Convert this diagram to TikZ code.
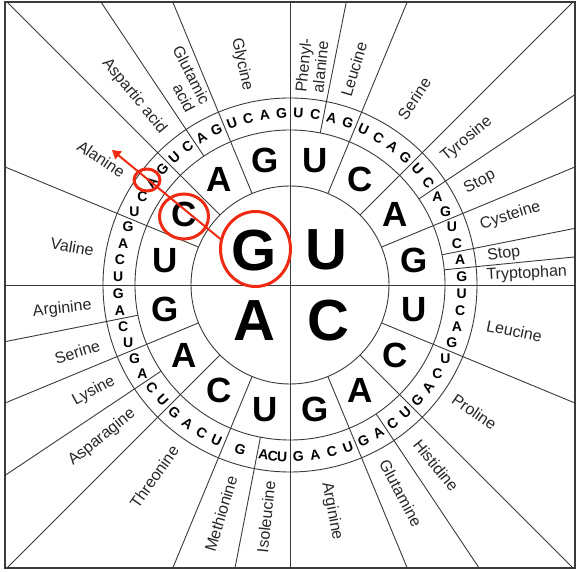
\documentclass[tikz,border=0pt]{standalone}
\usepackage{fontspec}
\setmainfont{Liberation Sans}
\usetikzlibrary{arrows.meta,shapes.geometric}
\definecolor{rulegray}{HTML}{3A3A3A}
\definecolor{markred}{HTML}{EE2B12}

\begin{document}
\begin{tikzpicture}[x=1pt, y=1pt, >=Triangle, line width=0.9pt,
  firstbase/.style={font=\fontsize{58}{58}\selectfont\bfseries},
  secondbase/.style={font=\fontsize{35}{35}\selectfont\bfseries},
  thirdbase/.style={font=\fontsize{14}{14}\selectfont\bfseries, inner sep=0pt},
  acid/.style={font=\fontsize{16}{17}\selectfont, align=center, inner sep=0pt, text=black!85},
  ring/.style={draw=markred, line width=3pt, ellipse, inner sep=0pt}]
  \useasboundingbox (-290,-287) rectangle (288,285);

  % frame, circles and axes
  \draw[rulegray, line width=1.4pt] (-285,-283) rectangle (285,283);
  \draw[rulegray] (0,0) circle[radius=99pt] circle[radius=155pt] circle[radius=187pt];
  \draw[rulegray] (0,-283) -- (0,283);
  \draw[rulegray] (-285,0) -- (285,0);

  % second base sectors
  \foreach \k in {0,...,15}
    \draw[rulegray] ({90-22.5*\k}:99) -- ({90-22.5*\k}:155);

  % amino acid borders out to the frame (AUG gets a wider slot)
  \begin{scope}
    \clip (-285,-283) rectangle (285,283);
    \foreach \t in {11.25,22.5,45,56.25,67.5,78.75,84.375,112.5,135,146.25,157.5,
                    191,202.5,225,236.25,247.5,258.75,292.5,315,326.25,337.5}
      \draw[rulegray] ({90-\t}:155) -- ({90-\t}:450);
  \end{scope}

  % first base
  \node[firstbase] (b1-U) at (36,35) {U};
  \node[firstbase] (b1-C) at (38,-36) {C};
  \node[firstbase] (b1-A) at (-36,-36) {A};
  \node[firstbase] (b1-G) at (-36,34) {G};

  % second base
  \foreach \k in {0,...,15}{
    \pgfmathtruncatemacro\b{mod(\k,4)}
    \node[secondbase] (b2-\k) at ({90-22.5*\k-11.25}:127) {\ifcase\b U\or C\or A\or G\fi};
  }

  % third base
  \foreach \k in {0,...,63}{
    \pgfmathsetmacro\th{and(\k>31,\k<35) ? 182.6+3.1*(\k-32) : (\k==35 ? 196.8 : 5.625*\k+2.8125)}
    \pgfmathsetmacro\ph{\th<90 ? \th : (\th<270 ? \th-180 : \th-360)}
    \pgfmathsetmacro\rot{abs(\ph)<56 ? -\ph : 0}
    \pgfmathtruncatemacro\b{mod(\k,4)}
    \node[thirdbase, rotate=\rot] (b3-\k) at ({90-\th}:172) {\ifcase\b U\or C\or A\or G\fi};
  }

  % amino acids, right half reads outward, left half inward
  \foreach \t/\r/\txt [count=\i] in {5.7/220/{Phenyl-\\alanine}, 16.5/225/Leucine,
      33.7/224/Serine, 50.5/229/Tyrosine, 61.5/216/Stop, 72.6/231/Cysteine,
      81.8/216/Stop, 87.3/237/Tryptophan, 101.6/229/Leucine, 124.6/224/Proline,
      141/232/Histidine, 152/236/Glutamine, 169.5/230/Arginine}
    \node[acid, rotate=90-\t] (aa-r\i) at ({90-\t}:\r) {\txt};
  \foreach \t/\r/\txt [count=\i] in {185.9/233/Isoleucine, 196.8/239/Methionine,
      215.3/235/Threonine, 231/242/Asparagine, 241.6/223/Lysine, 252.5/223/Serine,
      264/229/Arginine, 279.9/221/Valine, 303.7/227/Alanine,
      320.5/245/Aspartic acid, 347.7/226/Glycine}
    \node[acid, rotate=270-\t] (aa-l\i) at ({90-\t}:\r) {\txt};
  \node[acid, align=right, rotate=270-332.8] (aa-glu) at ({90-332.8}:232) {Glutamic\\acid};

  % reading the codon GCA
  \node[ring, minimum width=70pt, minimum height=75pt] (ring-G) at (-34.5,36) {};
  \node[ring, minimum width=49pt, minimum height=45pt] (ring-C) at (-106,68.5) {};
  \node[ring, minimum width=26pt, minimum height=22pt] (ring-A) at (-143,105) {};
  \coordinate (tip) at (-178,135);
  \draw[markred, line width=2pt, ->] (ring-G.164) -- (tip);
\end{tikzpicture}
\end{document}
